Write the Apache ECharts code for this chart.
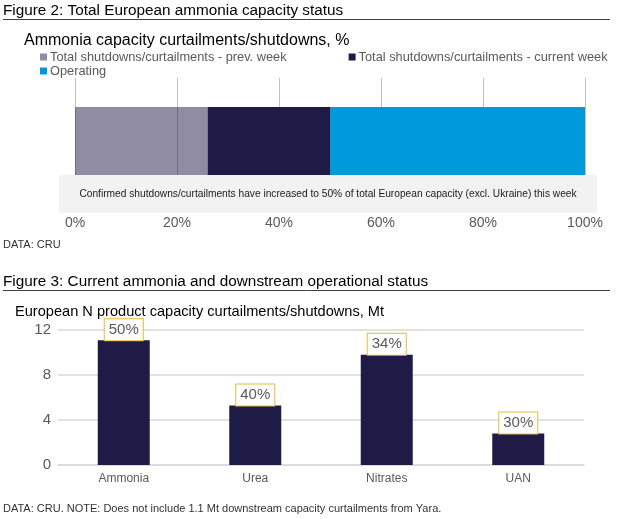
<!DOCTYPE html>
<html>
<head>
<meta charset="utf-8">
<script src="https://cdn.jsdelivr.net/npm/echarts@6/dist/echarts.min.js"></script>
<style>
  html, body { margin: 0; padding: 0; background: #fff; }
  #main { width: 625px; height: 519px; }
</style>
</head>
<body>
<div id="main"></div>
<script>
// Figure 2 - ammonia capacity status, % of total
var statusCategory = ['Ammonia capacity'];
var prevWeek = [26];      // shutdowns/curtailments - prev. week
var currentWeek = [24];   // additional this week (cumulative 50%)
var operating = [50];

// Figure 3 - curtailments by product, Mt
var products = ['Ammonia', 'Urea', 'Nitrates', 'UAN'];
var curtailedMt = [11.1, 5.3, 9.8, 2.8];
var shareLabels = ['50%', '40%', '34%', '30%'];

var FONT = 'Liberation Sans, Arial, sans-serif';
var GREY = '#595959';
var NAVY = '#201a47';

var chartDom = document.getElementById('main');
var myChart = echarts.init(chartDom);
var option;

function heading(text, left, top, size, color) {
  return {
    text: text, left: left, top: top, padding: 0,
    textStyle: { fontFamily: FONT, fontSize: size, fontWeight: 'normal', color: color || '#000', lineHeight: size }
  };
}

option = {
  animation: false,
  textStyle: { fontFamily: FONT },
  title: [
    heading('Figure 2: Total European ammonia capacity status', 3, 3, 15.3),
    heading('Ammonia capacity curtailments/shutdowns, %', 24, 33, 16),
    heading('DATA: CRU', 3, 239.5, 11, '#333'),
    heading('Figure 3: Current ammonia and downstream operational status', 3, 274, 15.3),
    heading('European N product capacity curtailments/shutdowns, Mt', 15, 304.5, 14.6),
    heading('DATA: CRU. NOTE: Does not include 1.1 Mt downstream capacity curtailments from Yara.', 3, 503.5, 11, '#333')
  ],
  legend: [
    {
      data: ['Total shutdowns/curtailments - prev. week', 'Total shutdowns/curtailments - current week'],
      left: 40, top: 50.5, padding: 0, itemGap: 62,
      icon: 'rect', itemWidth: 7, itemHeight: 7,
      textStyle: { fontSize: 12.8, color: GREY, padding: [0, 0, 0, -2] }
    },
    {
      data: ['Operating'],
      left: 40, top: 64.5, padding: 0,
      icon: 'rect', itemWidth: 7, itemHeight: 7,
      textStyle: { fontSize: 12.8, color: GREY, padding: [0, 0, 0, -2] }
    }
  ],
  grid: [
    { left: 75, right: 40, top: 78, bottom: 344 },   // gridlines area
    { left: 75, right: 40, top: 107, bottom: 344 },  // stacked bar
    { left: 58, right: 41, top: 330, bottom: 54 }    // product bars
  ],
  xAxis: [
    {
      gridIndex: 0, type: 'value', min: 0, max: 100, interval: 20,
      axisLine: { show: false }, axisTick: { show: false },
      splitLine: { lineStyle: { color: '#bfbfbf', width: 1 } },
      axisLabel: { formatter: '{value}%', fontSize: 14, color: GREY, margin: 41 }
    },
    {
      gridIndex: 1, type: 'value', min: 0, max: 100, show: false
    },
    {
      gridIndex: 2, type: 'category', data: products,
      axisLine: { lineStyle: { color: '#d9d9d9', width: 1.5 } },
      axisTick: { show: false },
      axisLabel: { fontSize: 12, color: GREY, margin: 8 }
    }
  ],
  yAxis: [
    { gridIndex: 0, type: 'category', data: [''], show: false },
    { gridIndex: 1, type: 'category', data: statusCategory, show: false },
    {
      gridIndex: 2, type: 'value', min: 0, max: 12, interval: 4,
      axisLine: { show: false }, axisTick: { show: false },
      splitLine: { lineStyle: { color: '#d9d9d9', width: 1.5 } },
      axisLabel: { fontSize: 15, color: GREY, margin: 7 }
    }
  ],
  graphic: [
    { type: 'line', shape: { x1: 3, y1: 19.5, x2: 610, y2: 19.5 }, style: { stroke: '#404040', lineWidth: 1 } },
    { type: 'line', shape: { x1: 3, y1: 290.5, x2: 610, y2: 290.5 }, style: { stroke: '#404040', lineWidth: 1 } },
    { type: 'rect', shape: { x: 59, y: 175, width: 538, height: 38 }, style: { fill: '#f2f2f2' }, z: -1 },
    {
      type: 'text', x: 328, y: 194, z: 5,
      style: {
        text: 'Confirmed shutdowns/curtailments have increased to 50% of total European capacity (excl. Ukraine) this week',
        font: '10.2px ' + FONT, fill: '#1a1a1a', textAlign: 'center', textVerticalAlign: 'middle',
        align: 'center', verticalAlign: 'middle'
      }
    }
  ],
  series: [
    {
      name: 'Total shutdowns/curtailments - prev. week', type: 'bar', stack: 'cap',
      xAxisIndex: 1, yAxisIndex: 1, barWidth: '100%', data: prevWeek,
      itemStyle: { color: 'rgba(32,26,71,0.5)' }
    },
    {
      name: 'Total shutdowns/curtailments - current week', type: 'bar', stack: 'cap',
      xAxisIndex: 1, yAxisIndex: 1, barWidth: '100%', data: currentWeek,
      itemStyle: { color: NAVY }
    },
    {
      name: 'Operating', type: 'bar', stack: 'cap',
      xAxisIndex: 1, yAxisIndex: 1, barWidth: '100%', data: operating,
      itemStyle: { color: '#009ADB' }
    },
    {
      name: 'Curtailments', type: 'bar', xAxisIndex: 2, yAxisIndex: 2,
      barWidth: 52, data: curtailedMt,
      itemStyle: { color: NAVY },
      label: {
        show: true, position: 'top', distance: 0,
        formatter: function (p) { return shareLabels[p.dataIndex]; },
        fontSize: 15, color: GREY, lineHeight: 15,
        backgroundColor: '#fff', borderColor: '#e8b93a', borderWidth: 1,
        padding: [3, 4, 3, 4]
      }
    }
  ]
};

option && myChart.setOption(option);
</script>
</body>
</html>
